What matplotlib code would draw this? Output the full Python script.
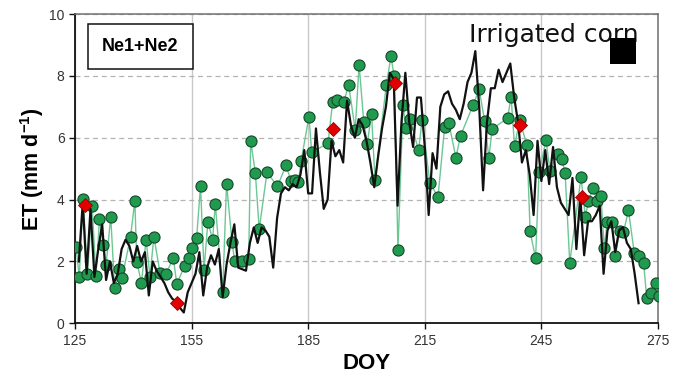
import matplotlib
matplotlib.use("Agg")
import matplotlib.pyplot as plt
from matplotlib.patches import Rectangle

GREEN, GREEN_EDGE, GREEN_LINE = "#1f9a4f", "#17472a", "#6cc795"
RED, INK = "#e00000", "#111111"

plt.rcParams["mathtext.fontset"] = "custom"
plt.rcParams["mathtext.bf"] = "Liberation Sans:bold"
plt.rcParams["mathtext.rm"] = "Liberation Sans"

# daily modelled ET (black line), DOY 126..270
black_doy = list(range(126, 271))
black_et = [
    2.0, 3.9, 1.6, 3.7, 1.5, 2.4, 3.2, 1.4, 2.0, 1.3,      # 126-135
    1.6, 2.4, 2.7, 2.5, 2.0, 2.5, 2.0, 2.3, 0.9, 2.0,      # 136-145
    1.7, 1.5, 1.3, 1.0, 0.8, 0.7, 0.5, 0.35, 1.0, 1.3,     # 146-155
    1.6, 2.3, 0.9, 1.8, 2.2, 1.9, 2.4, 0.85, 1.9, 2.6,     # 156-165
    3.2, 1.8, 1.75, 1.7, 2.6, 3.1, 2.6, 3.1, 3.0, 2.8,     # 166-175
    1.8, 3.4, 4.2, 4.4, 4.3, 4.5, 4.4, 4.8, 5.6, 4.2,      # 176-185
    4.2, 6.3, 4.9, 3.7, 4.0, 5.9, 5.4, 5.6, 5.2, 7.2,      # 186-195
    6.4, 6.0, 6.6, 6.4, 5.9, 5.2, 4.4, 5.4, 6.3, 7.0,      # 196-205
    8.1, 7.9, 3.8, 6.5, 8.1, 6.5, 5.7, 7.3, 7.3, 5.7,      # 206-215
    3.5, 5.5, 5.0, 7.0, 7.4, 7.5, 7.1, 6.9, 6.6, 7.1,      # 216-225
    7.8, 8.1, 8.8, 7.0, 4.3, 6.5, 7.6, 7.6, 8.2, 7.8,      # 226-235
    8.1, 8.4, 7.3, 6.5, 5.2, 5.6, 4.8, 3.5, 5.9, 4.6,      # 236-245
    5.6, 4.5, 5.7, 4.4, 3.9, 3.7, 3.5, 4.7, 2.4, 4.1,      # 246-255
    2.2, 3.3, 3.3, 3.5, 3.8, 1.6, 3.0, 3.3, 2.3, 3.0,      # 256-265
    3.1, 2.6, 2.4, 1.6, 0.65,                              # 266-270
]

# measured ET (green circles)
green_doy = [
    125.3, 126.1, 127.1, 128.2, 129.4, 130.4, 131.3, 132.3, 133.0, 134.2,
    135.2, 136.4, 137.1, 139.3, 140.4, 140.9, 142.1, 143.3, 144.3, 145.3,
    146.9, 148.4, 150.3, 151.2, 153.2, 154.3, 155.1, 156.3, 157.3, 158.2,
    159.2, 160.4, 161.1, 163.0, 164.0, 165.4, 166.1, 168.0, 169.7, 170.2,
    171.4, 172.4, 174.4, 177.1, 179.3, 180.6, 181.5, 182.5, 183.2, 185.2,
    185.9, 190.1, 191.3, 192.4, 194.1, 195.4, 197.1, 198.1, 199.3, 200.2,
    201.3, 202.2, 205.1, 206.3, 207.1, 208.1, 209.4, 210.1, 211.2, 213.4,
    214.3, 216.3, 218.4, 220.1, 221.2, 223.0, 224.2, 227.4, 229.0, 230.4,
    231.5, 232.3, 236.3, 237.2, 238.1, 239.4, 241.3, 242.1, 243.5, 244.4,
    246.2, 247.2, 249.2, 250.3, 251.1, 252.3, 255.2, 256.3, 257.1, 258.3,
    259.3, 260.3, 261.2, 261.9, 263.1, 264.0, 265.1, 266.1, 267.4, 268.9,
    270.2, 271.3, 272.1, 273.2, 274.6, 275.3,
]
green_et = [
    2.48, 1.49, 4.02, 1.60, 3.80, 1.53, 3.36, 2.53, 1.88, 3.45,
    1.13, 1.75, 1.46, 2.80, 3.97, 1.99, 1.31, 2.70, 1.51, 2.80,
    1.62, 1.59, 2.12, 1.26, 1.86, 2.12, 2.45, 2.77, 4.44, 1.72,
    3.29, 2.70, 3.85, 1.00, 4.52, 2.63, 2.00, 2.03, 2.08, 5.91,
    4.87, 3.04, 4.88, 4.43, 5.11, 4.60, 4.64, 4.58, 5.26, 6.68,
    5.53, 5.82, 7.16, 7.23, 7.14, 7.71, 6.26, 8.36, 6.51, 5.80,
    6.78, 4.63, 7.70, 8.63, 8.00, 2.37, 7.07, 6.31, 6.60, 5.59,
    6.57, 4.55, 4.08, 6.34, 6.47, 5.36, 6.06, 7.05, 7.56, 6.54,
    5.34, 6.28, 6.63, 7.33, 5.72, 6.58, 5.75, 2.97, 2.10, 4.90,
    5.92, 4.93, 5.47, 5.31, 4.86, 1.96, 4.73, 3.45, 3.94, 4.37,
    3.94, 4.12, 2.43, 3.26, 3.29, 2.18, 2.97, 2.94, 3.65, 2.28,
    2.18, 1.96, 0.81, 0.97, 1.31, 0.89,
]

# highlighted days (red diamonds)
red_doy = [127.6, 151.3, 191.3, 207.3, 239.4, 255.4]
red_et = [3.83, 0.65, 6.28, 7.77, 6.42, 4.08]

x_ticks = [125, 155, 185, 215, 245, 275]
y_ticks = [0, 2, 4, 6, 8, 10]

fig = plt.figure(figsize=(6.73, 3.87), dpi=100)
ax = fig.add_axes([0.1114, 0.1646, 0.8663, 0.7992])

ax.plot(green_doy, green_et, color=GREEN_LINE, lw=1.0, zorder=2)
ax.plot(green_doy, green_et, "o", ms=8, mfc=GREEN, mec=GREEN_EDGE, mew=0.8, zorder=3)
ax.plot(black_doy, black_et, color=INK, lw=1.6, zorder=4)
ax.plot(red_doy, red_et, "D", ms=7, mfc=RED, mec="#a00000", mew=0.6, zorder=5)

ax.set_xlim(125, 275)
ax.set_ylim(0, 10)
ax.set_xticks(x_ticks)
ax.set_yticks(y_ticks)
ax.tick_params(direction="out", length=4, width=1, labelsize=10,
               labelcolor="#333333", color=INK)
for lab in ax.get_xticklabels() + ax.get_yticklabels():
    lab.set_family("Liberation Sans")

ax.xaxis.grid(True, color="#c8c8c8", lw=1, ls="-", zorder=0)
ax.yaxis.grid(True, color="#b4b4b4", lw=0.9, ls=(0, (4, 3)), zorder=0)
ax.set_axisbelow(True)

for s in ("left", "bottom"):
    ax.spines[s].set_color(INK)
    ax.spines[s].set_linewidth(1.3)
for s in ("top", "right"):
    ax.spines[s].set_color("#707070")
    ax.spines[s].set_linewidth(1.1)

ax.set_xlabel("DOY", fontsize=16, fontweight="bold", family="Liberation Sans", labelpad=4)
ax.set_ylabel("ET (mm d$^{\\mathbf{-1}}$)", fontsize=15.5, fontweight="bold",
              family="Liberation Sans", labelpad=2)

ax.text(0.112, 0.895, "Ne1+Ne2", transform=ax.transAxes, ha="center", va="center",
        fontsize=13, fontweight="bold", family="Liberation Sans",
        bbox=dict(boxstyle="square,pad=0.8", fc="white", ec=INK, lw=1.1), zorder=6)

ax.text(0.821, 0.933, "Irrigated corn", transform=ax.transAxes, ha="center", va="center",
        fontsize=18, family="DejaVu Sans", color=INK, zorder=6)
ax.add_patch(Rectangle((0.918, 0.838), 0.045, 0.084, transform=ax.transAxes,
                       fc="black", ec="none", zorder=7))

fig.savefig("out.png", dpi=100)
